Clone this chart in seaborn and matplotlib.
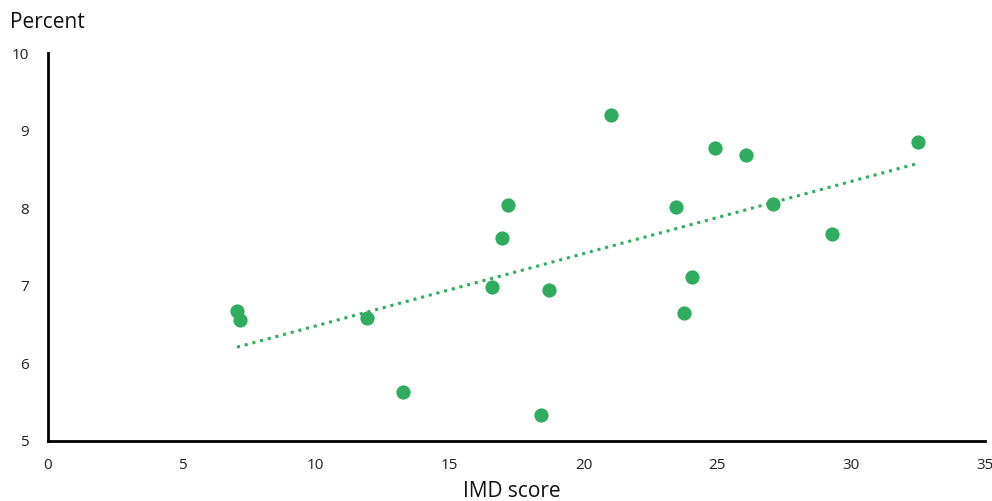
import numpy as np
import pandas as pd
import matplotlib
matplotlib.use("Agg")
import matplotlib.pyplot as plt
import seaborn as sns

# --- data ---
imd_score = [7.06, 7.17, 11.92, 13.26, 16.59, 16.96, 17.18, 18.42, 18.71,
             21.03, 23.46, 23.76, 24.06, 24.92, 26.07, 27.08, 29.29, 32.50]
percent = [6.68, 6.56, 6.59, 5.63, 6.98, 7.61, 8.04, 5.34, 6.95,
           9.20, 8.02, 6.65, 7.11, 8.77, 8.68, 8.06, 7.67, 8.86]

x_ticks = [0, 5, 10, 15, 20, 25, 30, 35]
y_ticks = [5, 6, 7, 8, 9, 10]

green = "#2fac5f"

df = pd.DataFrame({"IMD score": imd_score, "Percent": percent})

# linear trend over the data range
slope, intercept = np.polyfit(df["IMD score"], df["Percent"], 1)
trend = pd.DataFrame({"IMD score": [df["IMD score"].min(), df["IMD score"].max()]})
trend["Percent"] = slope * trend["IMD score"] + intercept

sns.set_style("white")
plt.rcParams["font.family"] = ["Open Sans", "DejaVu Sans"]

fig = plt.figure(figsize=(9.92, 5.01), dpi=100)
ax = fig.add_axes([0.0484, 0.12, 0.9446, 0.774])

sns.lineplot(data=trend, x="IMD score", y="Percent", ax=ax, color=green,
             linestyle=(0, (1, 1.6)), linewidth=2.2)
sns.scatterplot(data=df, x="IMD score", y="Percent", ax=ax, color=green,
                s=105, marker="o", linewidth=0, zorder=3)

ax.set_xlim(0, 35)
ax.set_ylim(5, 10)
ax.set_xticks(x_ticks)
ax.set_yticks(y_ticks)
ax.tick_params(axis="both", length=0, labelsize=11, colors="#222222")
ax.tick_params(axis="x", pad=12)
ax.tick_params(axis="y", pad=14)

for side in ["top", "right"]:
    ax.spines[side].set_visible(False)
for side in ["left", "bottom"]:
    ax.spines[side].set_color("black")
    ax.spines[side].set_linewidth(2)

ax.set_xlabel("")
ax.set_ylabel("")
fig.text(0.516, 0.018, "IMD score", fontsize=15, ha="center", va="center",
         color="#111111")
fig.text(0.01, 0.955, "Percent", fontsize=15, ha="left", va="center",
         color="#111111")

fig.savefig("out.png", dpi=100)
